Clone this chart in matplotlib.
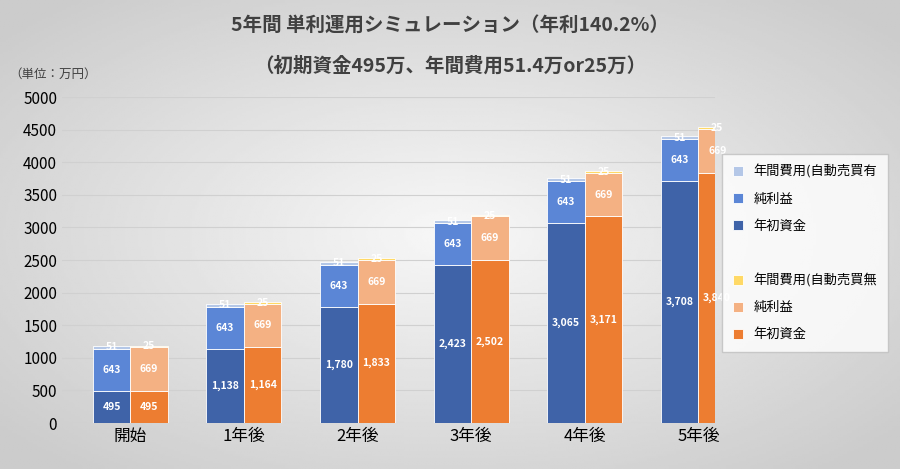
import numpy as np
import matplotlib.pyplot as plt

plt.rcParams['font.family'] = ['Noto Sans CJK JP', 'DejaVu Sans']

categories = ['開始', '1年後', '2年後', '3年後', '4年後', '5年後']
base_a = [495, 1138, 1780, 2423, 3065, 3708]
profit_a = [643, 643, 643, 643, 643, 643]
cost_a = [51, 51, 51, 51, 51, 51]
base_b = [495, 1164, 1833, 2502, 3171, 3840]
profit_b = [669, 669, 669, 669, 669, 669]
cost_b = [25, 25, 25, 25, 25, 25]

fig = plt.figure(figsize=(9, 4.69), dpi=100)
# gray radial background
bg = fig.add_axes([0, 0, 1, 1], zorder=-10)
yy, xx = np.mgrid[-1:1:200j, -1:1:400j]
r = np.sqrt(xx ** 2 + yy ** 2)
bg.imshow(0.97 - 0.17 * np.clip(r / 1.3, 0, 1), cmap='gray', vmin=0, vmax=1,
          aspect='auto', extent=[0, 1, 0, 1])
bg.axis('off')

ax = fig.add_axes([0.069, 0.098, 0.726, 0.695])
ax.set_facecolor('none')
x = np.arange(len(categories))
w = 0.33
xa = x - w / 2
xb = x + w / 2

c_base_a, c_prof_a, c_cost_a = '#3F63A8', '#5B86D6', '#B4C7E7'
c_base_b, c_prof_b, c_cost_b = '#ED7D31', '#F4B183', '#FFD966'

ba = np.array(base_a)
pa = np.array(profit_a)
bb = np.array(base_b)
pb = np.array(profit_b)
h1 = ax.bar(xa, base_a, w, color=c_base_a, edgecolor='white', linewidth=0.6)
h2 = ax.bar(xa, profit_a, w, bottom=ba, color=c_prof_a, edgecolor='white', linewidth=0.6)
h3 = ax.bar(xa, cost_a, w, bottom=ba + pa, color=c_cost_a, edgecolor='white', linewidth=0.6)
h4 = ax.bar(xb, base_b, w, color=c_base_b, edgecolor='white', linewidth=0.6)
h5 = ax.bar(xb, profit_b, w, bottom=bb, color=c_prof_b, edgecolor='white', linewidth=0.6)
h6 = ax.bar(xb, cost_b, w, bottom=bb + pb, color=c_cost_b, edgecolor='white', linewidth=0.6)

def lbl(xs, bottoms, vals):
    for xi, b0, v in zip(xs, bottoms, vals):
        ax.text(xi, b0 + v / 2, f'{v:,}', ha='center', va='center',
                color='white', fontsize=7.5, fontweight='bold')

lbl(xa, [0] * 6, base_a)
lbl(xa, ba, profit_a)
lbl(xa, ba + pa, cost_a)
lbl(xb, [0] * 6, base_b)
lbl(xb, bb, profit_b)
lbl(xb, bb + pb, cost_b)

ax.set_ylim(0, 5000)
ax.set_yticks(range(0, 5001, 500))
ax.set_xlim(-0.6, 5.15)
ax.set_xticks(x)
ax.set_xticklabels(categories, fontsize=12)
ax.tick_params(axis='y', labelsize=11, length=0)
ax.tick_params(axis='x', length=0)
ax.grid(axis='y', color='#d0d0d0', linewidth=0.8)
ax.set_axisbelow(True)
for s in ax.spines.values():
    s.set_visible(False)

fig.text(0.5, 0.945, '5年間 単利運用シミュレーション（年利140.2%）', ha='center',
         va='center', fontsize=14, fontweight='bold', color='#404040')
fig.text(0.5, 0.86, '（初期資金495万、年間費用51.4万or25万）', ha='center',
         va='center', fontsize=14, fontweight='bold', color='#404040')
fig.text(0.01, 0.835, '（単位：万円）', fontsize=9, color='#404040')

blank = plt.Rectangle((0, 0), 1, 1, alpha=0)
leg = fig.legend([h3, h2, h1, blank, h6, h5, h4],
                 ['年間費用(自動売買有', '純利益', '年初資金', '',
                  '年間費用(自動売買無', '純利益', '年初資金'],
                 loc='upper left', bbox_to_anchor=(0.795, 0.685),
                 fontsize=9.5, frameon=True, fancybox=False,
                 handlelength=0.8, handleheight=0.8, labelspacing=1.05,
                 borderpad=0.8)
leg.get_frame().set_facecolor('white')
leg.get_frame().set_edgecolor('#bfbfbf')

fig.savefig('out.png', dpi=100)
